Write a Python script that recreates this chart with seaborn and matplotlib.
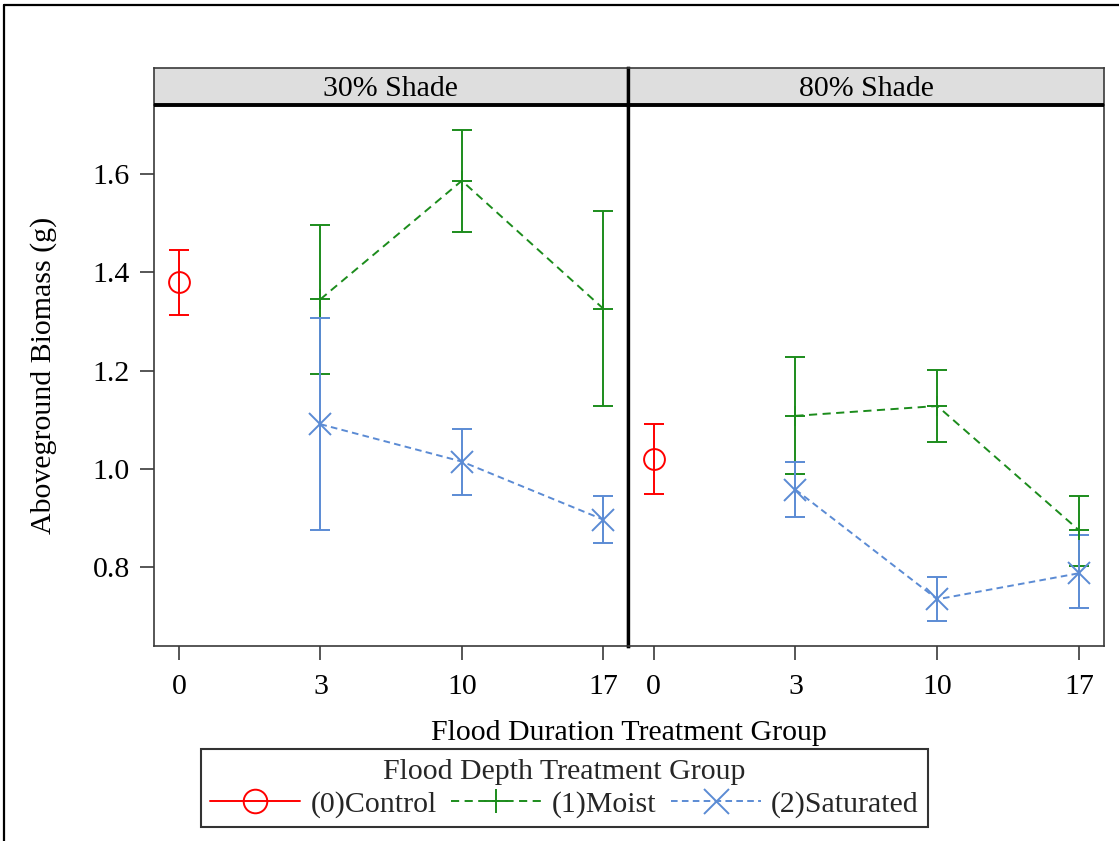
import pandas as pd
import matplotlib
matplotlib.use("Agg")
import matplotlib.pyplot as plt
from matplotlib.lines import Line2D
from matplotlib.ticker import FormatStrFormatter
import seaborn as sns

# ---- data: mean aboveground biomass (g) with 95% limits ----
durations = ["0", "3", "10", "17"]
shades = ["30% Shade", "80% Shade"]
groups = ["(0)Control", "(1)Moist", "(2)Saturated"]

control_mean = [1.380, 1.021]
control_lower = [1.313, 0.949]
control_upper = [1.446, 1.092]

moist_mean_30 = [1.345, 1.586, 1.326]
moist_lower_30 = [1.193, 1.482, 1.128]
moist_upper_30 = [1.497, 1.689, 1.525]

saturated_mean_30 = [1.091, 1.015, 0.897]
saturated_lower_30 = [0.876, 0.948, 0.849]
saturated_upper_30 = [1.306, 1.081, 0.944]

moist_mean_80 = [1.108, 1.128, 0.875]
moist_lower_80 = [0.990, 1.055, 0.803]
moist_upper_80 = [1.228, 1.202, 0.946]

saturated_mean_80 = [0.958, 0.735, 0.788]
saturated_lower_80 = [0.902, 0.691, 0.717]
saturated_upper_80 = [1.015, 0.780, 0.866]

flooded = durations[1:]
rows = []
for i, shade in enumerate(shades):
    rows.append((shade, groups[0], durations[0], control_mean[i],
                 control_lower[i], control_upper[i]))
moist_sets = [(moist_mean_30, moist_lower_30, moist_upper_30),
              (moist_mean_80, moist_lower_80, moist_upper_80)]
sat_sets = [(saturated_mean_30, saturated_lower_30, saturated_upper_30),
            (saturated_mean_80, saturated_lower_80, saturated_upper_80)]
for shade, (m, lo, hi) in zip(shades, moist_sets):
    for d, a, b, c in zip(flooded, m, lo, hi):
        rows.append((shade, groups[1], d, a, b, c))
for shade, (m, lo, hi) in zip(shades, sat_sets):
    for d, a, b, c in zip(flooded, m, lo, hi):
        rows.append((shade, groups[2], d, a, b, c))

df = pd.DataFrame(rows, columns=["shade", "group", "duration", "mean", "lower", "upper"])
df["pos"] = df["duration"].map({d: i for i, d in enumerate(durations)})

# ---- styling ----
palette = {groups[0]: "#FF0000", groups[1]: "#1C8C1C", groups[2]: "#5B8BD4"}
markers = {groups[0]: "o", groups[1]: "+", groups[2]: "x"}
msizes = {groups[0]: 15, groups[1]: 15, groups[2]: 16}
dashes = {groups[0]: None, groups[1]: (4.2, 2.8), groups[2]: (3.4, 2.2)}

def linestyle(g):
    return "-" if dashes[g] is None else (0, dashes[g])

sns.set_theme(style="white")
plt.rcParams["font.family"] = ["Liberation Serif", "DejaVu Serif"]
plt.rcParams["axes.unicode_minus"] = False

W, H = 1119, 841
fig = plt.figure(figsize=(W / 100, H / 100), dpi=100)
fig.patch.set_facecolor("white")

def fx(px):
    return px / W

def fy(py):
    return 1 - py / H

left, mid, right = 153.5, 628.0, 1104.0
top, bottom = 105.0, 646.0
strip_top = 67.5

frame_col = "#3a3a3a"
FS = 21.5
lw = 1.4

for k, shade in enumerate(shades):
    x0 = left if k == 0 else mid
    x1 = mid if k == 0 else right
    ax = fig.add_axes([fx(x0), fy(bottom), fx(x1) - fx(x0), fy(top) - fy(bottom)])
    sub = df[df["shade"] == shade]

    for g in groups:
        gd = sub[sub["group"] == g]
        ax.errorbar(gd["pos"], gd["mean"],
                    yerr=[gd["mean"] - gd["lower"], gd["upper"] - gd["mean"]],
                    fmt="none", ecolor=palette[g], elinewidth=lw,
                    capsize=7.5, capthick=lw, zorder=1)
        sns.lineplot(data=gd, x="pos", y="mean", color=palette[g],
                     marker=markers[g], markersize=msizes[g],
                     markeredgewidth=1.4, markeredgecolor=palette[g],
                     markerfacecolor="none", linestyle=linestyle(g),
                     linewidth=lw, errorbar=None, legend=False, ax=ax,
                     zorder=2)

    ax.set_xlim(-0.18, 3.175)
    ax.set_ylim(0.64, 1.74)
    ax.set_xticks(range(len(durations)))
    ax.set_xticklabels(durations)
    ax.set_xlabel("")
    ax.set_ylabel("")
    ax.set_yticks([0.8, 1.0, 1.2, 1.4, 1.6])
    ax.yaxis.set_major_formatter(FormatStrFormatter("%.1f"))
    ax.tick_params(axis="x", length=10, width=1.2, color=frame_col, pad=10,
                   labelsize=FS, labelcolor="black", bottom=True)
    ax.tick_params(axis="y", length=10, width=1.2, color=frame_col, pad=7,
                   labelsize=FS, labelcolor="black", left=(k == 0),
                   labelleft=(k == 0))
    for name, sp in ax.spines.items():
        sp.set_visible(True)
        sp.set_color(frame_col)
        sp.set_linewidth(1.2)
    if k == 0:
        ax.spines["right"].set_color("black")
        ax.spines["right"].set_linewidth(2.4)
    else:
        ax.spines["left"].set_color("black")
        ax.spines["left"].set_linewidth(2.4)

    # header strip for the shade level
    sax = fig.add_axes([fx(x0), fy(top), fx(x1) - fx(x0), fy(strip_top) - fy(top)])
    sax.set_facecolor("#DEDEDE")
    sax.set_xticks([])
    sax.set_yticks([])
    for name, sp in sax.spines.items():
        sp.set_visible(True)
        sp.set_color(frame_col)
        sp.set_linewidth(1.2)
    sax.spines["bottom"].set_color("black")
    sax.spines["bottom"].set_linewidth(2.8)
    sax.spines["bottom"].set_capstyle("butt")
    inner = "right" if k == 0 else "left"
    sax.spines[inner].set_color("black")
    sax.spines[inner].set_linewidth(2.4)
    sax.text(0.5, 0.44, shade, transform=sax.transAxes, ha="center",
             va="center", fontsize=FS, color="black")

fig.text(fx(44), fy((top + bottom) / 2), "Aboveground Biomass (g)", rotation=90,
         ha="center", va="center", fontsize=FS, color="black")
fig.text(fx(629), fy(733), "Flood Duration Treatment Group", ha="center",
         va="center", fontsize=FS, color="black")

handles = [Line2D([], [], color=palette[g], marker=markers[g], markersize=msizes[g] + 2,
                  markeredgewidth=1.4, markerfacecolor="none", linewidth=lw,
                  linestyle=linestyle(g))
           for g in groups]
leg = fig.legend(handles, groups, title="Flood Depth Treatment Group",
                 loc="upper center", bbox_to_anchor=(fx(564.5), fy(749)),
                 ncol=3, frameon=True, fancybox=False, edgecolor="black",
                 fontsize=FS, title_fontsize=FS, handlelength=3.0,
                 handletextpad=0.35, columnspacing=0.5, borderpad=0.32,
                 borderaxespad=0, labelspacing=0.2)
leg.get_frame().set_linewidth(1.5)
leg.get_frame().set_facecolor("white")

# outer border of the graph area
fig.add_artist(Line2D([fx(4), 1.0], [fy(4.5), fy(4.5)], color="black", lw=1.6,
                      transform=fig.transFigure))
fig.add_artist(Line2D([fx(4), fx(4)], [fy(4.5), 0.0], color="black", lw=1.6,
                      transform=fig.transFigure))

fig.savefig("out.png", dpi=100, facecolor="white")
